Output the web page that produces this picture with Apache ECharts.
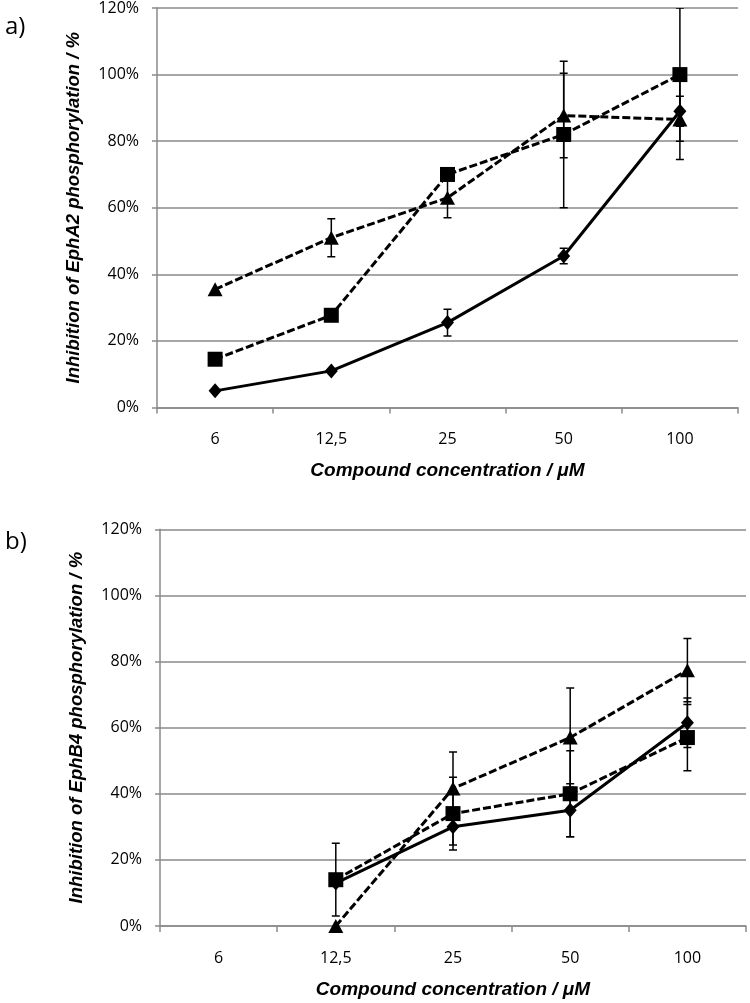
<!DOCTYPE html>
<html><head><meta charset="utf-8">
<script src="https://cdn.jsdelivr.net/npm/echarts@6/dist/echarts.min.js"></script>
<style>html,body{margin:0;padding:0;background:#fff}#c{width:750px;height:1003px}</style>
</head><body><div id="c"></div>
<script>
var categories = ['6', '12,5', '25', '50', '100'];
var yTicks = [0, 20, 40, 60, 80, 100, 120];

// Panel a) EphA2
var aDiamond = [5, 11, 25.5, 45.5, 89];
var aDiamondErr = [0, 0, 4, 2.3, 4.5];
var aSquare = [14.5, 27.7, 70, 82, 100];
var aSquareErr = [0, 0, 0, 22, 20];
var aTriangle = [35.5, 51, 63, 87.7, 86.5];
var aTriangleErr = [0, 5.7, 6, 12.7, 12];

// Panel b) EphB4
var bDiamond = [null, 13, 30, 35, 61.5];
var bDiamondErr = [0, 0, 5.5, 8, 7.5];
var bSquare = [null, 14, 34, 40, 57];
var bSquareErr = [0, 11, 11, 13, 10];
var bTriangle = [null, 0, 41.6, 57, 77.4];
var bTriangleErr = [0, 0, 11, 15, 9.6];

var FONT = 'Open Sans';
var TITLEFONT = 'Liberation Sans';
var GRID_COLOR = '#8a8a8a';

function errData(vals, errs) {
  var out = [];
  for (var i = 0; i < vals.length; i++) {
    if (vals[i] != null && errs[i] > 0) out.push([i, vals[i], errs[i]]);
  }
  return out;
}
function errSeries(idx, vals, errs) {
  return {
    type: 'custom', xAxisIndex: idx, yAxisIndex: idx, z: 1, clip: true,
    data: errData(vals, errs),
    renderItem: function (params, api) {
      var x = api.value(0), v = api.value(1), e = api.value(2);
      var hi = Math.min(v + e, 120), lo = Math.max(v - e, 0);
      var p1 = api.coord([x, hi]), p2 = api.coord([x, lo]);
      var w = 4;
      var st = { stroke: '#000', lineWidth: 1.5 };
      var children = [
        { type: 'line', shape: { x1: p1[0], y1: p1[1], x2: p2[0], y2: p2[1] }, style: st },
        { type: 'line', shape: { x1: p2[0] - w, y1: p2[1], x2: p2[0] + w, y2: p2[1] }, style: st }
      ];
      if (v + e <= 120) children.push({ type: 'line', shape: { x1: p1[0] - w, y1: p1[1], x2: p1[0] + w, y2: p1[1] }, style: st });
      return { type: 'group', children: children };
    }
  };
}
function lineSeries(idx, vals, symbol, size, dashed) {
  return {
    type: 'line', xAxisIndex: idx, yAxisIndex: idx, z: 3,
    data: vals, symbol: symbol, symbolSize: size, connectNulls: false,
    lineStyle: { color: '#000', width: 3, type: dashed ? [8, 3] : 'solid' },
    itemStyle: { color: '#000' }, clip: false, animation: false
  };
}
function xAx(idx) {
  return {
    type: 'category', gridIndex: idx, data: categories, boundaryGap: true,
    axisLine: { lineStyle: { color: GRID_COLOR, width: 1.5 } },
    axisTick: { show: true, alignWithLabel: false, length: 6, lineStyle: { color: GRID_COLOR, width: 1.5 } },
    axisLabel: { color: '#000', fontFamily: FONT, fontSize: 16, margin: 24 },
    name: 'Compound concentration / μM', nameLocation: 'middle', nameGap: 54,
    nameTextStyle: { color: '#000', fontFamily: TITLEFONT, fontSize: 19, fontWeight: 'bold', fontStyle: 'italic' }
  };
}
function yAx(idx, name) {
  return {
    type: 'value', gridIndex: idx, min: 0, max: 120, interval: 20,
    axisLine: { show: true, lineStyle: { color: GRID_COLOR, width: 1.5 } },
    axisTick: { show: true, length: 5, lineStyle: { color: GRID_COLOR, width: 1.5 } },
    splitLine: { lineStyle: { color: GRID_COLOR, width: 1.5 } },
    axisLabel: { color: '#000', fontFamily: FONT, fontSize: 16, margin: 18, formatter: '{value}%' },
    name: name, nameLocation: 'middle', nameGap: 74,
    nameTextStyle: { color: '#000', fontFamily: TITLEFONT, fontSize: 18.5, fontWeight: 'bold', fontStyle: 'italic' }
  };
}

var chart = echarts.init(document.getElementById('c'), null, { renderer: 'canvas' });
chart.setOption({
  animation: false,
  backgroundColor: '#fff',
  grid: [
    { left: 157, top: 7.5, width: 581, height: 400 },
    { left: 160, top: 529.3, width: 586, height: 396.7 }
  ],
  graphic: [
    { type: 'text', left: 5, top: 15, style: { text: 'a)', font: '24px "Open Sans"', fill: '#000' } },
    { type: 'text', left: 5, top: 530, style: { text: 'b)', font: '24px "Open Sans"', fill: '#000' } }
  ],
  xAxis: [xAx(0), xAx(1)],
  yAxis: [yAx(0, 'Inhibition of EphA2 phosphorylation / %'), yAx(1, 'Inhibition of EphB4 phosphorylation / %')],
  series: [
    errSeries(0, aDiamond, aDiamondErr),
    errSeries(0, aSquare, aSquareErr),
    errSeries(0, aTriangle, aTriangleErr),
    lineSeries(0, aDiamond, 'diamond', [13, 15], false),
    lineSeries(0, aSquare, 'rect', 15, true),
    lineSeries(0, aTriangle, 'triangle', [15, 14], true),
    errSeries(1, bDiamond, bDiamondErr),
    errSeries(1, bSquare, bSquareErr),
    errSeries(1, bTriangle, bTriangleErr),
    lineSeries(1, bDiamond, 'diamond', [13, 15], false),
    lineSeries(1, bSquare, 'rect', 15, true),
    lineSeries(1, bTriangle, 'triangle', [15, 14], true)
  ]
});
</script>
</body></html>
